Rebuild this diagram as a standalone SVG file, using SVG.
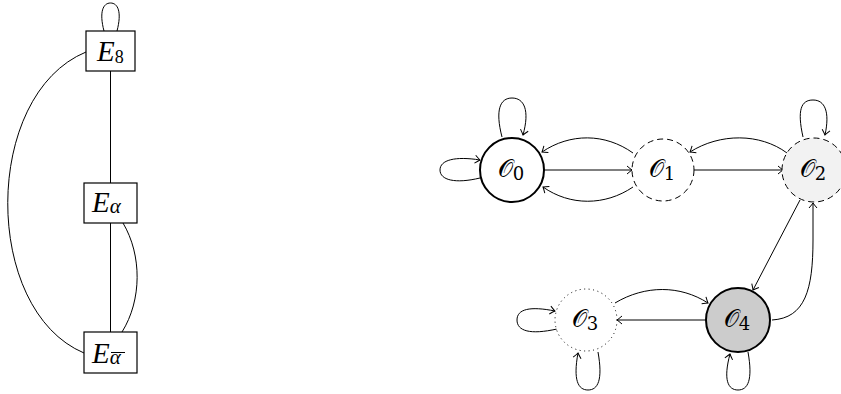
<svg xmlns="http://www.w3.org/2000/svg" width="841" height="394" viewBox="0 0 841 394">
<defs>
<marker id="to" viewBox="-6 -5 8 10" markerWidth="8" markerHeight="10" refX="0" refY="0" orient="auto" markerUnits="userSpaceOnUse">
<path d="M-5,-4 Q-1.5,-1 0,0 Q-1.5,1 -5,4" fill="none" stroke="#000" stroke-width="1"/>
</marker>
</defs>
<style>
.box{fill:#fff;stroke:#000;stroke-width:1.2}
.e{stroke:#000;stroke-width:1;fill:none}
.a{stroke:#000;stroke-width:1;fill:none;marker-end:url(#to)}
.lbl{font-family:"Liberation Serif",serif;font-style:italic;font-size:29px;fill:#000}
.sub{font-style:normal;font-size:18px}
.suba{font-style:italic;font-size:21px}
.cal{font-family:"DejaVu Serif","Liberation Serif",serif;font-size:24px;fill:#000}
.n{stroke:#000}
</style>
<rect width="841" height="394" fill="#fff"/>
<g id="connectors">
<path class="e" d="M104,31 C99,12 103,3 110.5,3 C118,3 122,12 117,31"/>
<path class="e" d="M110.5,71 L110.5,183"/>
<path class="e" d="M110.5,223 L110.5,332"/>
<path class="e" d="M86,52 C-18,95 -18,310 84,353"/>
<path class="e" d="M123,223 C142,255 142,300 122,332"/>
<path class="a" d="M544,170 L632,170"/>
<path class="a" d="M633,153 C605,133 570,133 542,152"/>
<path class="a" d="M633,187 C605,206 570,206 543,187"/>
<path class="a" d="M502,137 C495,110 500,98 512,98 C524,98 530,110 523,135"/>
<path class="a" d="M480,178 C455,184 440,180 440,170 C440,160 455,156 480,160"/>
<path class="a" d="M693,170 L783,170"/>
<path class="a" d="M787,153 C760,133 720,133 690,152"/>
<path class="a" d="M803,137 C797,110 801,100 813,100 C825,100 830,112 825,135"/>
<path class="a" d="M800,200 L753,290"/>
<path class="a" d="M772,320 C805,318 813,290 813,240 L813,203"/>
<path class="a" d="M706,320 L617,320"/>
<path class="a" d="M615,303 C645,285 680,285 708,303"/>
<path class="a" d="M557,329 C530,335 517,331 517,320 C517,309 530,306 555,311"/>
<path class="a" d="M598,352 C603,380 598,390 588,390 C578,390 573,380 578,353"/>
<path class="a" d="M748,352 C753,380 748,390 738,390 C728,390 723,380 730,354"/>
</g>
<g id="E8">
<rect class="box" x="86" y="31" width="49" height="40"/>
<text class="lbl" x="97" y="61">E<tspan class="sub" dy="2">8</tspan></text>
</g>
<g id="Ealpha">
<rect class="box" x="84" y="183" width="53" height="40"/>
<text class="lbl" x="92" y="212">E<tspan class="suba" dy="1">α</tspan></text>
</g>
<g id="Ealphabar">
<rect class="box" x="84" y="332" width="53" height="41"/>
<text class="lbl" x="92" y="363">E<tspan class="suba" dy="1">α</tspan></text>
<line x1="111" y1="352.5" x2="125" y2="352.5" stroke="#000" stroke-width="1"/>
</g>
<g id="O0">
<circle class="n" cx="512" cy="170" r="32" fill="#fff" stroke-width="2"/>
<text class="cal" x="511" y="177" text-anchor="middle">𝒪<tspan class="sub" dy="3">0</tspan></text>
</g>
<g id="O1">
<circle class="n" cx="663" cy="170" r="31" fill="#fff" stroke-width="1" stroke-dasharray="6 4"/>
<text class="cal" x="662" y="177" text-anchor="middle">𝒪<tspan class="sub" dy="3">1</tspan></text>
</g>
<g id="O2">
<circle class="n" cx="814" cy="170" r="32" fill="#f2f2f2" stroke-width="1" stroke-dasharray="6 4"/>
<text class="cal" x="813" y="177" text-anchor="middle">𝒪<tspan class="sub" dy="3">2</tspan></text>
</g>
<g id="O3">
<circle class="n" cx="586" cy="320" r="31" fill="#fff" stroke-width="1" stroke-dasharray="1 3.5"/>
<text class="cal" x="585" y="327" text-anchor="middle">𝒪<tspan class="sub" dy="3">3</tspan></text>
</g>
<g id="O4">
<circle class="n" cx="738" cy="320" r="32" fill="#cccccc" stroke-width="2"/>
<text class="cal" x="737" y="327" text-anchor="middle">𝒪<tspan class="sub" dy="3">4</tspan></text>
</g>
</svg>
